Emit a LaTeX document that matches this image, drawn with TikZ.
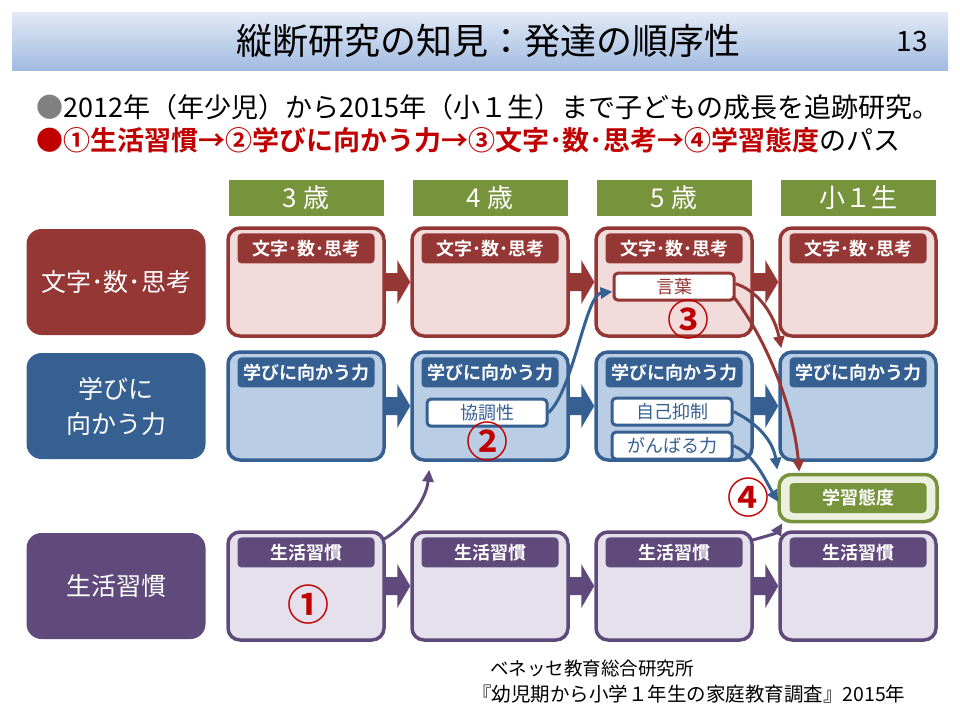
\documentclass[tikz,border=0pt]{standalone}
\usepackage{fontspec}
\setmainfont{Noto Sans CJK JP}[BoldFont={Noto Sans CJK JP Bold}]
\usetikzlibrary{positioning,calc,arrows.meta,backgrounds}
\definecolor{redD}{HTML}{953735}
\definecolor{redL}{HTML}{F2DCDB}
\definecolor{bluD}{HTML}{376092}
\definecolor{bluL}{HTML}{B9CDE5}
\definecolor{purD}{HTML}{604A7B}
\definecolor{purL}{HTML}{E6E0EC}
\definecolor{grnD}{HTML}{77933C}
\definecolor{grnL}{HTML}{EBF1DE}
\definecolor{numred}{HTML}{C00000}
\definecolor{bulgray}{HTML}{808080}
\definecolor{titleT}{HTML}{E2EAF6}
\definecolor{titleB}{HTML}{A2BBE1}
\newcommand\fsz[1]{\fontsize{#1}{#1}\selectfont}
% fat arrow from one card to the next
\newcommand\blkarr[3]{%
  \fill[#3] ($(#1.east)+(-3,-9)$) -- ($(#2.west)+(-13,-9)$) -- ($(#2.west)+(-13,-22)$)
    -- (#2.west) -- ($(#2.west)+(-13,22)$) -- ($(#2.west)+(-13,9)$) -- ($(#1.east)+(-3,9)$) -- cycle;}
\begin{document}
\begin{tikzpicture}[x=1pt,y=-1pt,
  card/.style={draw=#1D,fill=#1L,line width=3.5pt,rounded corners=12pt,minimum width=156pt,minimum height=108pt},
  cardhead/.style={fill=#1D,text=white,rounded corners=4pt,minimum width=137pt,minimum height=30pt,inner sep=0pt,font=\fsz{18}\bfseries},
  rowlab/.style={fill=#1D,text=white,rounded corners=15pt,minimum width=179pt,minimum height=106pt,align=center,font=\fontsize{25}{35}\selectfont},
  agehead/.style={fill=grnD,text=white,minimum width=155pt,minimum height=36pt,inner sep=0pt,font=\fsz{26}},
  subbox/.style={draw=#1D,fill=white,text=#1D,line width=3pt,rounded corners=4pt,minimum width=120pt,minimum height=27pt,inner sep=0pt,font=\fsz{18}},
  numlab/.style={text=numred,font=\fsz{42}\bfseries},
  link/.style={draw=#1D,line width=3pt,-{Triangle[length=12pt,width=11pt]}}]
\useasboundingbox (0,0) rectangle (960,720);
\shade[top color=titleT,bottom color=titleB] (12,12) rectangle (948,70);
\node[font=\fsz{36}] (title) at (488,41) {縦断研究の知見：発達の順序性};
\node[font=\fsz{28}] (page) at (912,42) {13};
\node[anchor=west,inner sep=0pt,font=\fsz{27}] (line1) at (36,107)
  {\textcolor{bulgray}{●}2012年（年少児）から2015年（小１生）まで子どもの成長を追跡研究。};
\node[anchor=west,inner sep=0pt,font=\fsz{27}] (line2) at (36,140)
  {\textcolor{numred}{●\textbf{①生活習慣→②学びに向かう力→③文字･数･思考→④学習態度}}のパス};

\foreach \i/\x/\t in {1/306/3 歳,2/490/4 歳,3/674/5 歳,4/858/小１生}
  \node[agehead] (age\i) at (\x,198) {\t};

\foreach \r/\col/\y/\lab/\hd in {1/red/282/{文字･数･思考}/{文字･数･思考},
    2/blu/406/{学びに\\向かう力}/{学びに向かう力},
    3/pur/586/{生活習慣}/{生活習慣}}{
  \node[rowlab=\col] (lab\r) at (116,\y) {\lab};
  \foreach \i/\x in {1/306,2/490,3/674,4/858}{
    \node[card=\col] (card\r\i) at (\x,\y) {};
    \node[cardhead=\col,below=7pt of card\r\i.north] (head\r\i) {\hd};
  }
  \begin{scope}[on background layer]
    \blkarr{card\r1}{card\r2}{\col D}
    \blkarr{card\r2}{card\r3}{\col D}
    \blkarr{card\r3}{card\r4}{\col D}
  \end{scope}
}

\node[subbox=red,below=8pt of head13] (kotoba) {言葉};
\node[subbox=blu,below=10pt of head22,xshift=-3pt] (kyocho) {協調性};
\node[subbox=blu,below=9pt of head23,xshift=-2pt] (jiko) {自己抑制};
\node[subbox=blu,below=4pt of jiko] (ganba) {がんばる力};

\node[draw=grnD,fill=grnL,line width=3.5pt,rounded corners=12pt,minimum width=158pt,minimum height=47pt] (att) at (858,498) {};
\node[cardhead=grn] (atthead) at (att) {学習態度};

\node[numlab] (n1) at (308,605) {①};
\node[numlab] (n2) at (487,442) {②};
\node[numlab] (n3) at (688,320) {③};
\node[numlab] (n4) at (748,498) {④};

\draw[link=pur] ($(card31.north east)+(-2,9)$) .. controls +(25,-15) and +(-3,30) .. ($(card22.south west)+(19,8)$);
\draw[link=blu] (kyocho.east) .. controls +(25,-23) and +(-27,3) .. ($(kotoba.west)+(0,5)$);
\draw[link=red] ($(kotoba.east)+(0,-3)$) .. controls +(25,8) and +(-6,-30) .. ($(card24.north west)+(3,-2)$);
\draw[link=red] ($(kotoba.east)+(-2,10)$) .. controls +(35,45) and +(-5,-60) .. ($(att.north west)+(22,-1)$);
\draw[link=blu] (jiko.east) .. controls +(25,12) and +(-4,-28) .. ($(att.north west)+(0,-3)$);
\draw[link=blu] (ganba.east) .. controls +(22,10) and +(-12,-20) .. ($(att.west)+(1,4)$);
\draw[link=pur] ($(card33.north east)+(-2,10)$) .. controls +(18,-5) and +(-6,10) .. ($(att.south west)+(5,0)$);

\node[anchor=west,inner sep=0pt,font=\fsz{18.5}] (src1) at (490,668) {ベネッセ教育総合研究所};
\node[anchor=west,inner sep=0pt,font=\fsz{19.5}] (src2) at (472,694) {『幼児期から小学１年生の家庭教育調査』2015年};
\end{tikzpicture}
\end{document}
